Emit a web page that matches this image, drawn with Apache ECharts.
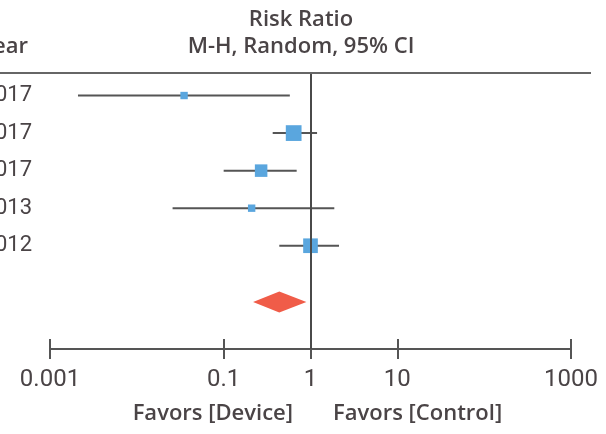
<!DOCTYPE html>
<html><head><meta charset="utf-8">
<script src="https://cdn.jsdelivr.net/npm/echarts@6/dist/echarts.min.js"></script>
<style>html,body{margin:0;padding:0;background:#fff;overflow:hidden}#c{width:606px;height:434px}</style>
</head><body><div id="c"></div>
<script>
// ---- data ----
const studyYears = ['2017', '2017', '2017', '2013', '2012'];
const riskRatio = [0.035, 0.64, 0.27, 0.21, 1.0];
const ciLower = [0.0021, 0.367, 0.100, 0.0258, 0.437];
const ciUpper = [0.578, 1.19, 0.693, 1.88, 2.13];
const studyWeight = [7.5, 34, 21.5, 7.5, 29.5];
const pooledRR = [0.437];
const pooledLower = [0.218];
const pooledUpper = [0.897];
const tickValues = [0.001, 0.1, 1, 10, 1000];
const tickLabels = ['0.001', '0.1', '1', '10', '1000'];

// ---- build ----
const lg = v => Math.log10(v);
const TEXT = '#4a4446';
const HFONT = '600 22px "Open Sans"';
const studyData = studyYears.map((y, i) => [i, lg(ciLower[i]), lg(ciUpper[i]), lg(riskRatio[i]), studyWeight[i]]);
const pooledRow = studyYears.length + 0.5;
const pooledData = pooledRR.map((v, i) => [pooledRow, lg(pooledLower[i]), lg(pooledUpper[i]), lg(v)]);
const tickPos = tickValues.map(lg);
const labelFor = v => {
  const k = tickPos.findIndex(t => Math.abs(t - v) < 1e-6);
  return k >= 0 ? tickLabels[k] : '';
};

const chart = echarts.init(document.getElementById('c'), null, {renderer: 'canvas'});
chart.setOption({
  animation: false,
  backgroundColor: '#fff',
  grid: [
    {left: 50, right: 35, top: 73, bottom: 85, containLabel: false, outerBoundsMode: 'none'},
    {left: 50, right: 35, top: 339, height: 10, containLabel: false, outerBoundsMode: 'none'}
  ],
  xAxis: [{
    gridIndex: 0, type: 'value', min: -3, max: 3,
    axisLine: {show: true, onZero: false, lineStyle: {color: '#555', width: 2}},
    axisTick: {show: true, length: 10, customValues: tickPos, lineStyle: {color: '#555', width: 2}},
    axisLabel: {show: true, customValues: tickPos, formatter: labelFor, margin: 19,
      color: TEXT, fontFamily: 'Roboto', fontSize: 24},
    splitLine: {show: false}
  }, {
    gridIndex: 1, type: 'value', min: -3, max: 3, position: 'bottom',
    axisLine: {show: false, onZero: false},
    axisTick: {show: true, inside: true, length: 10, customValues: tickPos, lineStyle: {color: '#555', width: 2}},
    axisLabel: {show: false},
    splitLine: {show: false}
  }],
  yAxis: [{
    gridIndex: 0, type: 'value', inverse: true, min: -0.6, max: 6.75,
    axisLine: {show: false, onZero: false},
    axisTick: {show: false},
    splitLine: {show: false},
    axisLabel: {show: true, customValues: studyYears.map((_, i) => i),
      formatter: v => studyYears[v] || '', margin: 18,
      color: TEXT, fontFamily: 'Roboto', fontSize: 22}
  }, {
    gridIndex: 1, type: 'value', min: 0, max: 1, show: false
  }],
  graphic: [
    {type: 'line', shape: {x1: 0, y1: 73, x2: 591, y2: 73}, style: {stroke: '#666', lineWidth: 2}, z: 10},
    {type: 'text', x: 301, y: 20, style: {text: 'Risk Ratio', fill: TEXT, font: HFONT, textAlign: 'center', textVerticalAlign: 'middle'}},
    {type: 'text', x: 301, y: 47, style: {text: 'M-H, Random, 95% CI', fill: TEXT, font: HFONT, textAlign: 'center', textVerticalAlign: 'middle'}},
    {type: 'text', x: 28, y: 47, style: {text: 'Year', fill: TEXT, font: HFONT, textAlign: 'right', textVerticalAlign: 'middle'}},
    {type: 'text', x: 293, y: 414, style: {text: 'Favors [Device]', fill: TEXT, font: HFONT, textAlign: 'right', textVerticalAlign: 'middle'}},
    {type: 'text', x: 333, y: 414, style: {text: 'Favors [Control]', fill: TEXT, font: HFONT, textAlign: 'left', textVerticalAlign: 'middle'}}
  ],
  series: [{
    type: 'custom',
    xAxisIndex: 0, yAxisIndex: 0,
    data: studyData,
    encode: {x: [1, 2, 3], y: 0},
    renderItem: (params, api) => {
      const y = api.value(0);
      const a = api.coord([api.value(1), y]);
      const b = api.coord([api.value(2), y]);
      const c = api.coord([api.value(3), y]);
      const s = Math.sqrt(api.value(4)) * 2.7;
      return {type: 'group', children: [
        {type: 'line', shape: {x1: a[0], y1: a[1], x2: b[0], y2: b[1]}, style: {stroke: '#555', lineWidth: 2}},
        {type: 'rect', shape: {x: c[0] - s / 2, y: c[1] - s / 2, width: s, height: s}, style: {fill: '#5aa6de'}}
      ]};
    },
    markLine: {
      silent: true, symbol: 'none', label: {show: false},
      lineStyle: {color: '#4a4a4a', width: 2, type: 'solid'},
      data: [{xAxis: 0}]
    },
    z: 3
  }, {
    type: 'custom',
    xAxisIndex: 0, yAxisIndex: 0,
    data: pooledData,
    encode: {x: [1, 2, 3], y: 0},
    renderItem: (params, api) => {
      const y = api.value(0);
      const l = api.coord([api.value(1), y]);
      const r = api.coord([api.value(2), y]);
      const m = api.coord([api.value(3), y]);
      const h = 10.5;
      return {type: 'polygon', shape: {points: [[l[0], l[1]], [m[0], m[1] - h], [r[0], r[1]], [m[0], m[1] + h]]},
        style: {fill: '#f05c48'}};
    },
    z: 4
  }]
});
</script>
</body></html>
